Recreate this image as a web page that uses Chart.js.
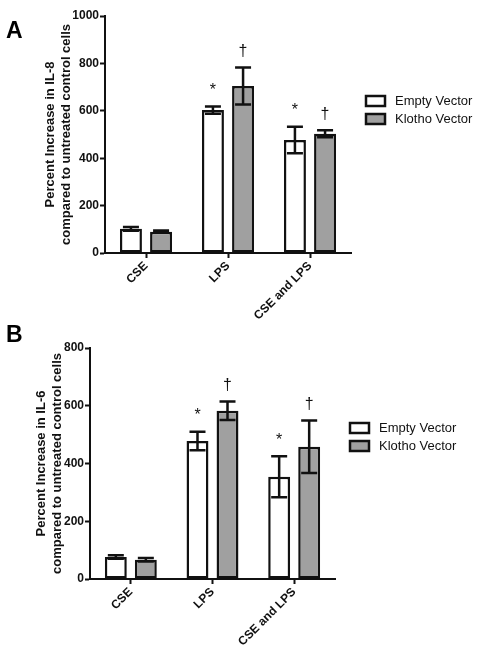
<!DOCTYPE html>
<html>
<head>
    <script src="https://cdnjs.cloudflare.com/ajax/libs/Chart.js/4.4.1/chart.umd.min.js"></script>
    <style>
        body {
            margin: 0;
            background: white;
            font-family: "Liberation Sans", Arial, Helvetica, sans-serif;
        }
        .panel {
            position: absolute;
            left: 0;
            width: 482px;
        }
        .letter {
            position: absolute;
            font-weight: bold;
            font-size: 23px;
            line-height: 1;
        }
    </style>
</head>
<body>
    <div class="panel" style="top:0;height:330px">
        <canvas id="chartA" width="482" height="330"></canvas>
    </div>
    <div class="panel" style="top:330px;height:327px">
        <canvas id="chartB" width="482" height="327"></canvas>
    </div>
    <div class="letter" style="left:6px;top:19px">A</div>
    <div class="letter" style="left:6px;top:323px">B</div>

    <script>
        const FONT = '"Liberation Sans", Arial, Helvetica, sans-serif';

        const categories = ['CSE', 'LPS', 'CSE and LPS'];
        const seriesNames = ['Empty Vector', 'Klotho Vector'];

        // IL-8 (panel A)
        const il8Empty = [102, 603, 477];
        const il8EmptyErr = [8, 15, 56];
        const il8Klotho = [90, 705, 503];
        const il8KlothoErr = [5, 78, 15];
        const il8Ticks = [0, 200, 400, 600, 800, 1000];

        // IL-6 (panel B)
        const il6Empty = [76, 478, 354];
        const il6EmptyErr = [6, 32, 71];
        const il6Klotho = [67, 583, 458];
        const il6KlothoErr = [6, 32, 91];
        const il6Ticks = [0, 200, 400, 600, 800];

        // significance marks above bars
        const marksEmpty = ['', '*', '*'];
        const marksKlotho = ['', '\u2020', '\u2020'];

        const errorBars = {
            id: 'errorBars',
            afterDatasetsDraw(chart) {
                const c = chart.ctx;
                const y = chart.scales.y;
                chart.data.datasets.forEach((ds, i) => {
                    const meta = chart.getDatasetMeta(i);
                    meta.data.forEach((bar, j) => {
                        const v = ds.data[j];
                        const e = ds.errors[j];
                        const top = y.getPixelForValue(v + e);
                        const bot = y.getPixelForValue(v - e);
                        c.save();
                        c.strokeStyle = '#111';
                        c.lineWidth = 2.5;
                        c.beginPath();
                        c.moveTo(bar.x, top);
                        c.lineTo(bar.x, bot);
                        c.moveTo(bar.x - 8, top);
                        c.lineTo(bar.x + 8, top);
                        c.moveTo(bar.x - 8, bot);
                        c.lineTo(bar.x + 8, bot);
                        c.stroke();
                        if (ds.marks[j]) {
                            c.fillStyle = '#111';
                            c.font = '16px ' + FONT;
                            c.textAlign = 'center';
                            c.textBaseline = 'middle';
                            c.fillText(ds.marks[j], bar.x, top - 16);
                        }
                        c.restore();
                    });
                });
            }
        };

        const boxLegend = {
            id: 'boxLegend',
            afterDraw(chart, args, opts) {
                const c = chart.ctx;
                chart.data.datasets.forEach((ds, i) => {
                    const cy = opts.y + i * opts.gap;
                    c.save();
                    c.fillStyle = ds.backgroundColor;
                    c.strokeStyle = '#111';
                    c.lineWidth = 2.5;
                    c.fillRect(opts.x, cy - 5, 19, 10);
                    c.strokeRect(opts.x, cy - 5, 19, 10);
                    c.fillStyle = '#111';
                    c.font = '13px ' + FONT;
                    c.textBaseline = 'middle';
                    c.fillText(ds.label, opts.x + 29, cy);
                    c.restore();
                });
            }
        };

        function makeChart(id, empty, emptyErr, klotho, klothoErr, ticks, title, box) {
            const ctx = document.getElementById(id).getContext('2d');
            return new Chart(ctx, {
                type: 'bar',
                data: {
                    labels: categories,
                    datasets: [
                        {
                            label: seriesNames[0],
                            data: empty,
                            errors: emptyErr,
                            marks: marksEmpty,
                            backgroundColor: '#ffffff',
                            borderColor: '#111',
                            borderWidth: 2.5,
                            borderSkipped: false,
                            barPercentage: 0.73,
                            categoryPercentage: 0.735
                        },
                        {
                            label: seriesNames[1],
                            data: klotho,
                            errors: klothoErr,
                            marks: marksKlotho,
                            backgroundColor: '#a0a0a0',
                            borderColor: '#111',
                            borderWidth: 2.5,
                            borderSkipped: false,
                            barPercentage: 0.73,
                            categoryPercentage: 0.735
                        }
                    ]
                },
                options: {
                    responsive: false,
                    animation: false,
                    layout: {
                        padding: { left: 0, top: box.top, right: box.right, bottom: 0 }
                    },
                    scales: {
                        x: {
                            afterFit: (s) => { s.height = box.xh; },
                            grid: {
                                display: true,
                                drawOnChartArea: false,
                                offset: false,
                                tickLength: 5,
                                tickWidth: 2,
                                color: '#111'
                            },
                            border: { display: true, color: '#111', width: 2 },
                            ticks: {
                                color: '#111',
                                minRotation: 45,
                                maxRotation: 45,
                                padding: 1,
                                font: { family: FONT, size: 12, weight: 'bold' }
                            }
                        },
                        y: {
                            min: 0,
                            max: ticks[ticks.length - 1],
                            afterFit: (s) => { s.width = box.yw; },
                            afterBuildTicks: (s) => { s.ticks = ticks.map(v => ({ value: v })); },
                            grid: {
                                display: true,
                                drawOnChartArea: false,
                                tickLength: 5,
                                tickWidth: 2,
                                color: '#111'
                            },
                            border: { display: true, color: '#111', width: 2 },
                            ticks: {
                                color: '#111',
                                padding: 1,
                                callback: (v) => String(v),
                                font: { family: FONT, size: 12, weight: 'bold' }
                            },
                            title: {
                                display: true,
                                text: title,
                                color: '#111',
                                padding: { top: box.titlePad, bottom: 0 },
                                font: { family: FONT, size: 13, weight: 'bold', lineHeight: 1.23 }
                            }
                        }
                    },
                    plugins: {
                        legend: { display: false },
                        tooltip: { enabled: false },
                        boxLegend: { x: box.lx, y: box.ly, gap: 18 }
                    }
                },
                plugins: [errorBars, boxLegend]
            });
        }

        makeChart('chartA', il8Empty, il8EmptyErr, il8Klotho, il8KlothoErr, il8Ticks,
            ['Percent Increase in IL-8', 'compared to untreated control cells'],
            { top: 16, right: 131, xh: 77, yw: 105, titlePad: 42, lx: 366, ly: 101 });

        makeChart('chartB', il6Empty, il6EmptyErr, il6Klotho, il6KlothoErr, il6Ticks,
            ['Percent Increase in IL-6', 'compared to untreated control cells'],
            { top: 18, right: 147, xh: 78, yw: 90, titlePad: 33, lx: 350, ly: 98 });
    </script>
</body>
</html>
